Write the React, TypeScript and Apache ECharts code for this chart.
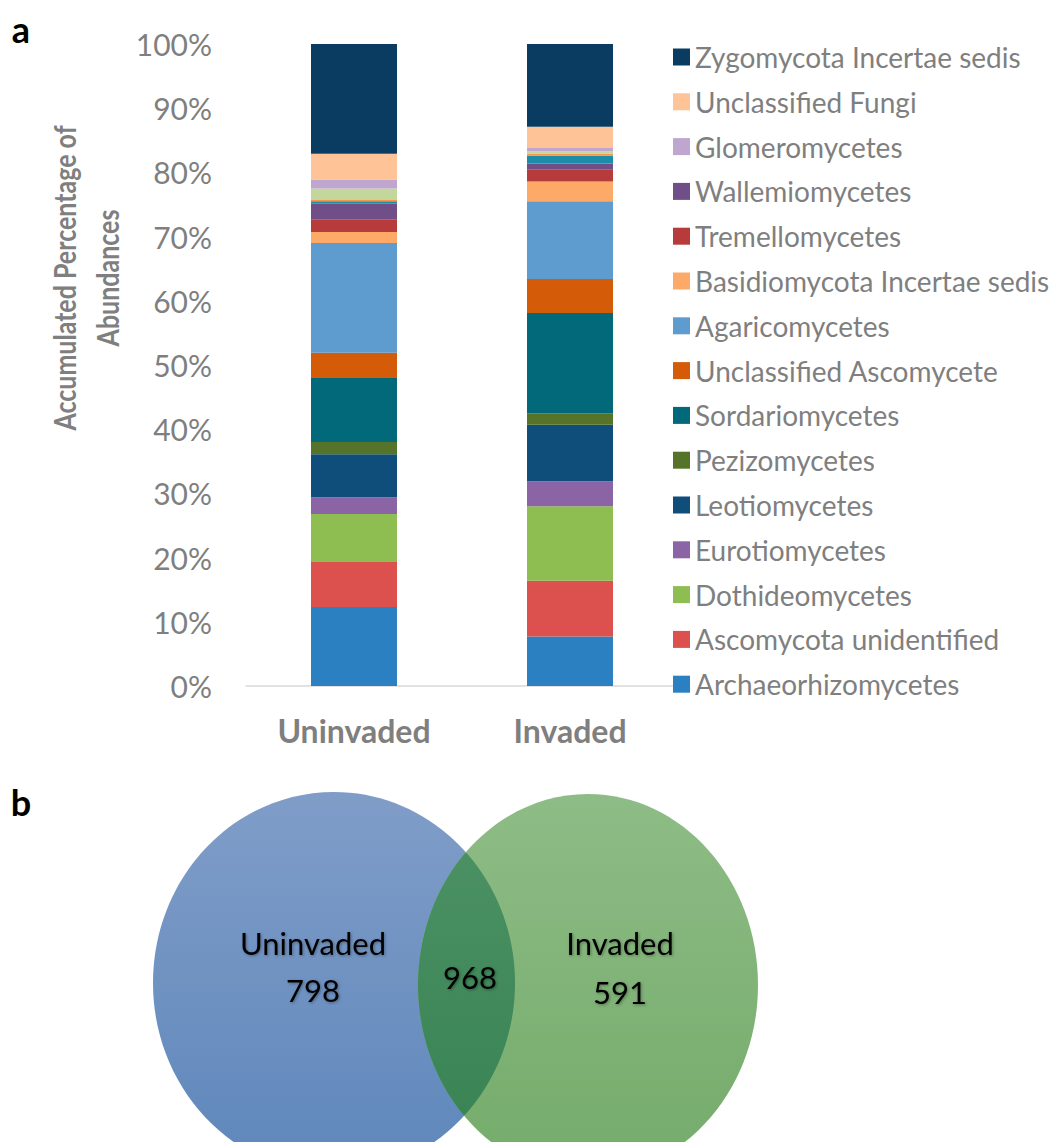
import React, { useEffect, useRef } from "react";
import * as echarts from "echarts";

const categories = ["Uninvaded", "Invaded"];

// stacking order bottom -> top
const seriesNames = [
  "Archaeorhizomycetes",
  "Ascomycota unidentified",
  "Dothideomycetes",
  "Eurotiomycetes",
  "Leotiomycetes",
  "Pezizomycetes",
  "Sordariomycetes",
  "Unclassified Ascomycete",
  "Agaricomycetes",
  "Basidiomycota Incertae sedis",
  "Tremellomycetes",
  "Wallemiomycetes",
  "Unlisted class 1",
  "Unlisted class 2",
  "Unlisted class 3",
  "Glomeromycetes",
  "Unclassified Fungi",
  "Zygomycota Incertae sedis",
];

const uninvadedValues = [12.3, 7.0, 7.5, 2.6, 6.7, 1.9, 10.1, 3.8, 17.1, 1.7, 2.0, 2.4, 0.4, 0.2, 1.8, 1.4, 4.0, 17.1];
const invadedValues = [7.7, 8.7, 11.6, 3.9, 8.8, 1.8, 15.6, 5.3, 12.1, 3.1, 1.8, 1.0, 1.2, 0.3, 0.4, 0.5, 3.3, 12.9];

const seriesColors = [
  "#2A80C0", "#DC504E", "#8EBD51", "#8B64A5", "#0F4D7B", "#557329", "#02697A", "#D45C09",
  "#5E9BCE", "#FDAA68", "#B83B3B", "#704E88", "#1B8DA8", "#F79646", "#C3D69B", "#BFA6CF",
  "#FEC498", "#0A3C61",
];

const legendNames = seriesNames.filter((n) => !n.startsWith("Unlisted")).reverse();

const yTicks = [0, 10, 20, 30, 40, 50, 60, 70, 80, 90, 100];

const vennLabels = ["Uninvaded", "Invaded"];
const vennUnique = [798, 591];
const vennShared = 968;

const FONT = "Lato, 'Open Sans', sans-serif";

export default function App() {
  const ref = useRef<HTMLDivElement>(null);

  useEffect(() => {
    if (!ref.current) return;
    const chart = echarts.init(ref.current, null, { renderer: "svg" });

    // venn geometry
    const A = { cx: 334, cy: 983, rx: 181, ry: 191 };
    const B = { cx: 588, cy: 985, rx: 170, ry: 191 };
    const lens: number[][] = [];
    const left: number[][] = [];
    for (let y = 790; y <= 1180; y += 1) {
      const ta = (y - A.cy) / A.ry;
      const tb = (y - B.cy) / B.ry;
      if (Math.abs(ta) >= 1 || Math.abs(tb) >= 1) continue;
      const xr = A.cx + A.rx * Math.sqrt(1 - ta * ta);
      const xl = B.cx - B.rx * Math.sqrt(1 - tb * tb);
      if (xl <= xr) {
        lens.push([xr, y]);
        left.push([xl, y]);
      }
    }
    const lensPoints = lens.concat(left.reverse());

    const grad = (c1: string, c2: string) =>
      new echarts.graphic.LinearGradient(0, 0, 0, 1, [
        { offset: 0, color: c1 },
        { offset: 1, color: c2 },
      ]);

    const vennText = (text: string, x: number, y: number) => ({
      type: "text",
      x,
      y,
      z: 20,
      style: {
        text,
        fill: "#000",
        font: `31px ${FONT}`,
        textAlign: "center",
        textVerticalAlign: "middle",
        textShadowColor: "rgba(0,0,0,0.35)",
        textShadowBlur: 3,
        textShadowOffsetX: 1,
        textShadowOffsetY: 1,
      },
    });

    chart.setOption({
      animation: false,
      textStyle: { fontFamily: FONT },
      grid: { left: 246, right: 376, top: 44, bottom: 456 },
      legend: {
        data: legendNames,
        orient: "vertical",
        left: 673,
        top: 43,
        padding: 0,
        itemWidth: 17,
        itemHeight: 17,
        itemGap: 16.8,
        icon: "rect",
        textStyle: { fontSize: 28, color: "#7F7F7F", fontFamily: FONT },
      },
      xAxis: {
        type: "category",
        data: categories,
        axisLine: { show: true, lineStyle: { color: "#D9D9D9", width: 1.5 } },
        axisTick: { show: false },
        axisLabel: { fontSize: 32, fontWeight: "bold", color: "#7F7F7F", margin: 28, fontFamily: FONT },
      },
      yAxis: {
        type: "value",
        min: 0,
        max: 100,
        interval: 10,
        axisLine: { show: false },
        axisTick: { show: false },
        splitLine: { show: false },
        axisLabel: {
          fontSize: 30,
          color: "#7F7F7F",
          margin: 34,
          fontFamily: FONT,
          formatter: (v: number) => (yTicks.includes(v) ? `${v}%` : ""),
        },
      },
      series: seriesNames.map((name, i) => ({
        name,
        type: "bar",
        stack: "total",
        barWidth: 86,
        itemStyle: { color: seriesColors[i] },
        data: [uninvadedValues[i], invadedValues[i]],
      })),
      graphic: [
        {
          type: "text",
          x: 21,
          y: 29,
          style: { text: "a", font: `bold 36px ${FONT}`, fill: "#000", textAlign: "center", textVerticalAlign: "middle" },
        },
        {
          type: "text",
          x: 21,
          y: 802,
          style: { text: "b", font: `bold 36px ${FONT}`, fill: "#000", textAlign: "center", textVerticalAlign: "middle" },
        },
        {
          type: "text",
          x: 86,
          y: 278,
          rotation: Math.PI / 2,
          scaleY: 1.2,
          style: {
            text: "Accumulated Percentage of\nAbundances",
            font: `bold 25px ${FONT}`,
            lineHeight: 36,
            fill: "#7F7F7F",
            textAlign: "center",
            textVerticalAlign: "middle",
          },
        },
        {
          type: "ellipse",
          z: 10,
          shape: A,
          style: { fill: grad("#809DC8", "#5E87BB") },
        },
        {
          type: "ellipse",
          z: 11,
          shape: B,
          style: { fill: grad("#8EBC86", "#74AB6A") },
        },
        {
          type: "polygon",
          z: 12,
          shape: { points: lensPoints },
          style: { fill: grad("#4A9062", "#3A8456") },
        },
        vennText(vennLabels[0], 313, 943),
        vennText(String(vennUnique[0]), 313, 990),
        vennText(String(vennShared), 470, 977),
        vennText(vennLabels[1], 620, 943),
        vennText(String(vennUnique[1]), 620, 992),
      ],
    });

    return () => chart.dispose();
  }, []);

  return (
    <div
      ref={ref}
      style={{ position: "fixed", left: 0, top: 0, width: 1054, height: 1142, background: "#fff" }}
    />
  );
}
